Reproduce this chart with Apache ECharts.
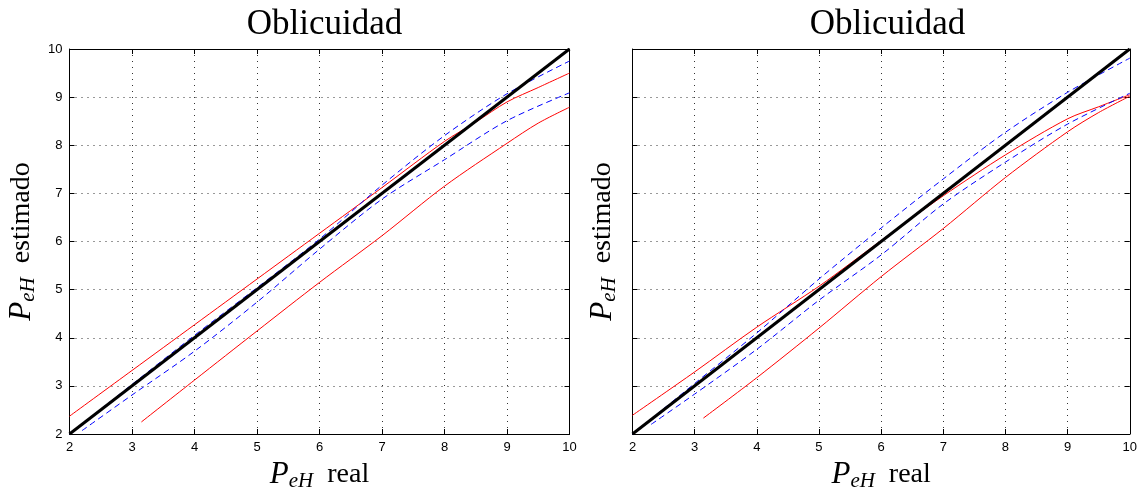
<!DOCTYPE html>
<html lang="es">
<head>
    <meta charset="UTF-8">
    <script src="https://cdn.jsdelivr.net/npm/echarts@6/dist/echarts.min.js"></script>
    <style>
        html, body { margin: 0; padding: 0; background: #fff; }
        #chart { width: 1140px; height: 497px; }
    </style>
</head>
<body>
<div id="chart"></div>
<script>
    // datos (eje x = PeH real, eje y = PeH estimado)
    var refX = [2, 10];
    var refY = [2, 10];

    // panel izquierdo
    var redUpLX = [2, 3, 4, 5, 6, 7, 8, 8.5, 9, 9.5, 10];
    var redUpLY = [2.37, 3.32, 4.27, 5.22, 6.17, 7.12, 8.08, 8.48, 8.9, 9.2, 9.5];
    var redLoLX = [3.15, 4, 5, 6, 7, 8, 9, 9.5, 10];
    var redLoLY = [2.25, 3.12, 4.14, 5.15, 6.12, 7.15, 8.04, 8.46, 8.79];
    var blueUpLX = [2, 3, 4, 5, 6, 7, 8, 9, 10];
    var blueUpLY = [2.0, 3.03, 4.05, 5.04, 6.05, 7.17, 8.2, 9.07, 9.75];
    var blueLoLX = [2.2, 3, 4, 5, 6, 7, 8, 9, 10];
    var blueLoLY = [2.07, 2.81, 3.72, 4.74, 5.84, 6.88, 7.7, 8.51, 9.09];

    // panel derecho
    var redUpRX = [2, 3, 4, 5, 6, 7, 8, 9, 9.5, 10];
    var redUpRY = [2.39, 3.29, 4.22, 5.07, 6.02, 6.95, 7.8, 8.55, 8.8, 9.05];
    var redLoRX = [3.14, 4, 5, 6, 7, 8, 9, 9.5, 10];
    var redLoRY = [2.33, 3.17, 4.2, 5.27, 6.27, 7.33, 8.28, 8.68, 9.02];
    var blueUpRX = [2, 3, 4, 5, 6, 7, 8, 9, 10];
    var blueUpRY = [2.0, 3.05, 4.1, 5.22, 6.28, 7.3, 8.27, 9.1, 9.81];
    var blueLoRX = [2.3, 3, 4, 5, 6, 7, 8, 9, 10];
    var blueLoRY = [2.2, 2.83, 3.76, 4.78, 5.72, 6.78, 7.65, 8.44, 9.08];

    function pairs(xs, ys) {
        var out = [];
        for (var i = 0; i < xs.length; i++) out.push([xs[i], ys[i]]);
        return out;
    }

    var serif = 'Liberation Serif';
    var nameRich = {
        i: { fontFamily: serif, fontStyle: 'italic', fontSize: 31, color: '#000' },
        s: { fontFamily: serif, fontStyle: 'italic', fontSize: 21, color: '#000', padding: [13, 0, 0, 0] },
        r: { fontFamily: serif, fontSize: 28, color: '#000' }
    };
    var gridDots = { color: '#333', type: [1, 5], width: 1 };

    function xAxisBottom(g) {
        return {
            gridIndex: g, type: 'value', min: 2, max: 10, interval: 1,
            name: '{i|P}{s|eH}{r|  real}', nameLocation: 'middle', nameGap: 24,
            nameTextStyle: { rich: nameRich },
            axisLine: { lineStyle: { color: '#000', width: 1 } },
            axisTick: { inside: true, length: 5, lineStyle: { color: '#000' } },
            axisLabel: { color: '#000', fontFamily: 'Liberation Sans', fontSize: 13, margin: 7 },
            splitLine: { show: true, lineStyle: gridDots }
        };
    }
    function xAxisTop(g) {
        return {
            gridIndex: g, type: 'value', min: 2, max: 10, interval: 1, position: 'top',
            axisLine: { lineStyle: { color: '#000', width: 1 } },
            axisTick: { inside: true, length: 5, lineStyle: { color: '#000' } },
            axisLabel: { show: false }, splitLine: { show: false }
        };
    }
    function yAxisLeft(g, labels) {
        return {
            gridIndex: g, type: 'value', min: 2, max: 10, interval: 1,
            name: '{i|P}{s|eH}{r|  estimado}', nameLocation: 'middle', nameRotate: 90,
            nameGap: labels ? 31 : 13,
            nameTextStyle: { rich: nameRich },
            axisLine: { show: true, lineStyle: { color: '#000', width: 1 } },
            axisTick: { show: true, inside: true, length: 5, lineStyle: { color: '#000' } },
            axisLabel: { show: labels, color: '#000', fontFamily: 'Liberation Sans', fontSize: 13, margin: 7 },
            splitLine: { show: true, lineStyle: gridDots }
        };
    }
    function yAxisRight(g) {
        return {
            gridIndex: g, type: 'value', min: 2, max: 10, interval: 1, position: 'right',
            axisLine: { show: true, lineStyle: { color: '#000', width: 1 } },
            axisTick: { show: true, inside: true, length: 5, lineStyle: { color: '#000' } },
            axisLabel: { show: false }, splitLine: { show: false }
        };
    }

    function line(idx, data, color, width, dashed) {
        return {
            type: 'line', xAxisIndex: idx, yAxisIndex: idx, data: data,
            smooth: 0.3, showSymbol: false, silent: true, clip: true,
            lineStyle: { color: color, width: width, type: dashed ? [6, 4] : 'solid' }
        };
    }

    var titleStyle = { fontFamily: serif, fontSize: 35, fontWeight: 'normal', color: '#000' };

    var chart = echarts.init(document.getElementById('chart'), null, { renderer: 'canvas' });
    var option = {
        animation: false,
        backgroundColor: '#fff',
        title: [
            { text: 'Oblicuidad', left: 319.5, top: 2, textAlign: 'center', textStyle: titleStyle },
            { text: 'Oblicuidad', left: 882.5, top: 2, textAlign: 'center', textStyle: titleStyle }
        ],
        grid: [
            { left: 69.5, top: 49, width: 500, height: 393.5 },
            { left: 632.5, top: 49, width: 500, height: 393.5 }
        ],
        xAxis: [xAxisBottom(0), xAxisBottom(1), xAxisTop(0), xAxisTop(1)],
        yAxis: [yAxisLeft(0, true), yAxisLeft(1, false), yAxisRight(0), yAxisRight(1)],
        series: [
            line(0, pairs(redUpLX, redUpLY), '#ff0000', 1, false),
            line(0, pairs(redLoLX, redLoLY), '#ff0000', 1, false),
            line(0, pairs(blueUpLX, blueUpLY), '#0000ff', 1, true),
            line(0, pairs(blueLoLX, blueLoLY), '#0000ff', 1, true),
            line(0, pairs(refX, refY), '#000000', 3, false),
            line(1, pairs(redUpRX, redUpRY), '#ff0000', 1, false),
            line(1, pairs(redLoRX, redLoRY), '#ff0000', 1, false),
            line(1, pairs(blueUpRX, blueUpRY), '#0000ff', 1, true),
            line(1, pairs(blueLoRX, blueLoRY), '#0000ff', 1, true),
            line(1, pairs(refX, refY), '#000000', 3, false)
        ]
    };
    chart.setOption(option);
</script>
</body>
</html>
